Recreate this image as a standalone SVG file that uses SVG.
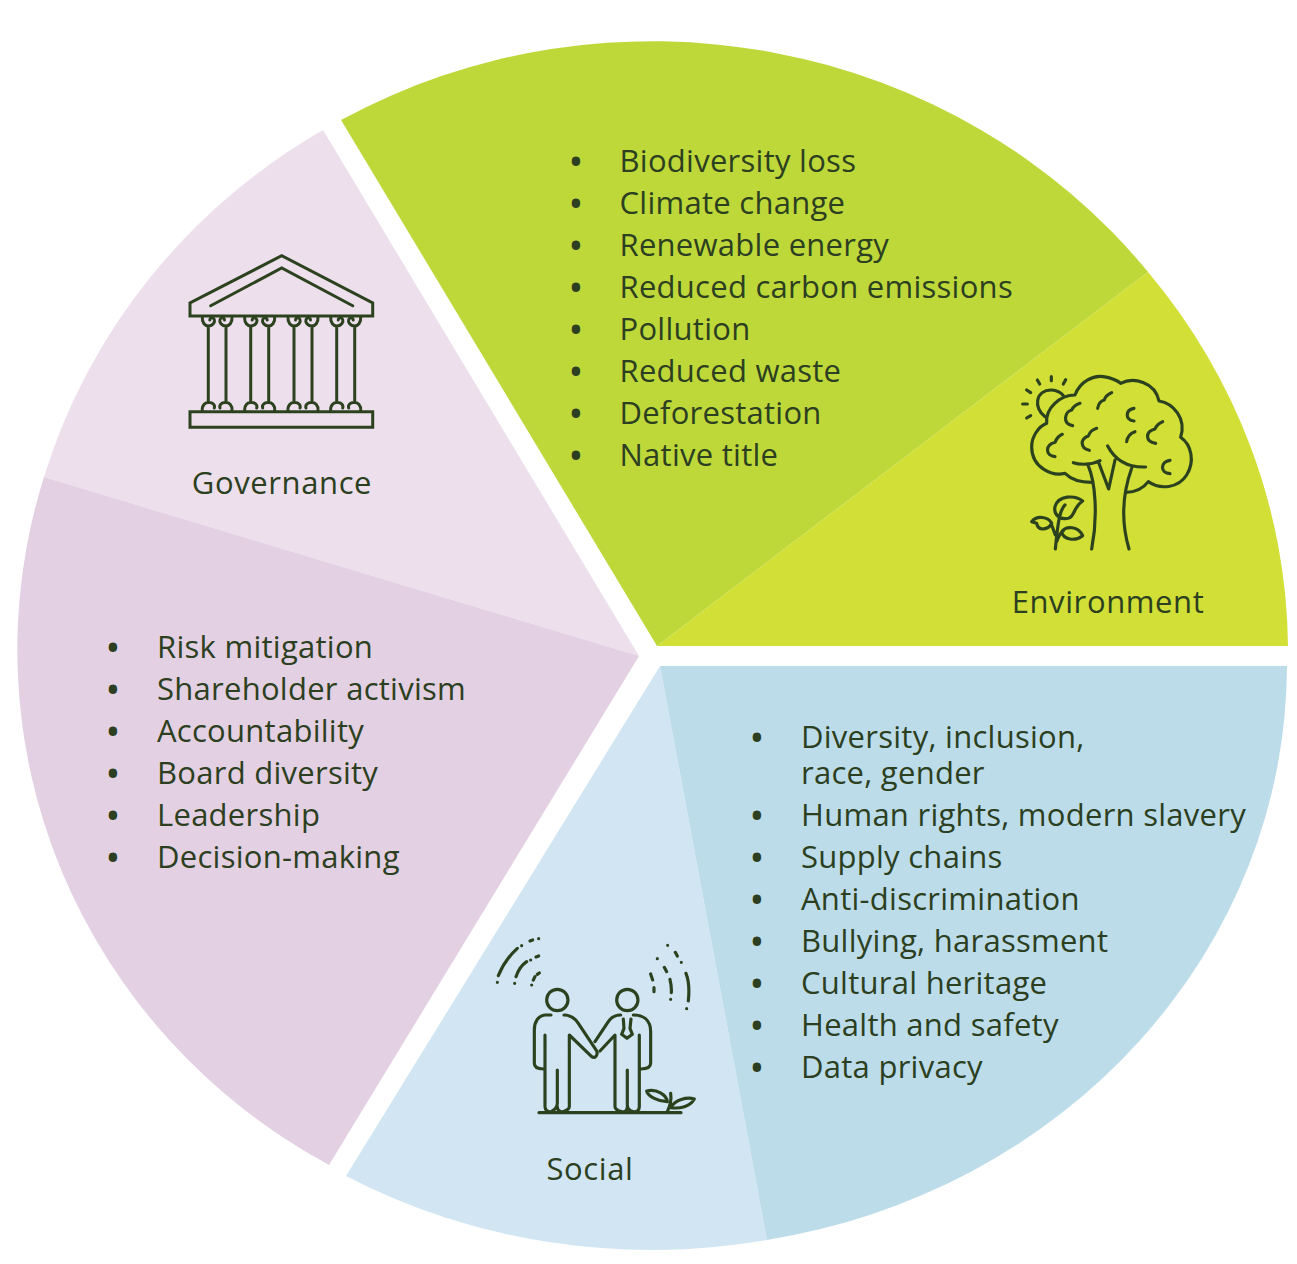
<svg xmlns="http://www.w3.org/2000/svg" width="1297" height="1264" viewBox="0 0 1297 1264">
<style>
text{font-family:"Open Sans","Noto Sans","Liberation Sans",sans-serif;font-size:31px;letter-spacing:.27px;fill:#2c3f20}
.b{font-size:30px;font-weight:700;letter-spacing:0}
.l{letter-spacing:.6px}
.i{fill:none;stroke:#2c421f;stroke-width:9.5;stroke-linecap:round;stroke-linejoin:round}
.t{fill:none;stroke:#2c421f;stroke-width:3;stroke-linejoin:miter;stroke-linecap:round}
</style>
<defs>
<path id="col" class="t" d="M-6,317C-6.500,323-3,326 0,326C4.500,326 7,322 6,319.500C5,317 2,317 1.500,320M0,326V402.500C-3,402.500-6.500,405-6,410.500M0,402.500C4.500,402 7,405 6,408"/>
<path id="colr" class="t" d="M6,317C6.500,323 3,326 0,326C-4.500,326-7,322-6,319.500C-5,317-2,317-1.500,320M0,326V402.500C3,402.500 6.500,405 6,410.500M0,402.500C-4.500,402-7,405-6,408"/>
</defs>
<rect width="1297" height="1264" fill="#fff"/>
<g id="environment">
<path d="M657,646L341,120A631,605 0 0 1 1148,272Z" fill="#bed83a"/>
<path d="M657,646L1148,272A631,605 0 0 1 1288,646Z" fill="#d1df36"/>
<g transform="translate(1010 365) scale(.3333)">
<path class="i" d="M245,352C215,352 185,345 165,325C130,335 65,310 65,245C65,215 85,185 110,175C105,130 150,90 195,90C210,50 250,30 280,35C300,38 320,45 332,55C370,35 435,50 447,108C490,115 530,160 512,217C545,240 555,290 530,330C505,370 450,375 415,350C400,370 375,382 347,382"/>
<path class="i" d="M235,303C255,350 265,450 245,552M365,310C340,380 330,460 357,552M265,290L296,372L315,285M190,293C210,300 245,300 270,287M293,243C315,285 355,308 407,306"/>
<path class="i" d="M210,115C195,120 190,125 185,135C165,140 155,175 188,182M305,83C290,90 285,95 283,105C270,108 265,118 263,130M372,130C345,135 345,165 372,168M157,208C145,213 140,220 135,232C105,240 105,272 135,275M260,190C245,195 240,200 235,213C210,222 210,250 238,256M375,200C360,205 352,215 350,230M458,170C445,175 440,180 435,192C405,200 405,230 437,235M480,286C450,290 450,325 480,326"/>
<path class="i" d="M105,155C70,130 75,75 125,75C140,75 155,85 160,92M124,35V47M82,45L89,57M167,44L160,57M50,75L62,83M38,117H52M50,159L62,152"/>
<path class="i" d="M218,408C195,390 145,390 135,425C130,450 150,465 175,460C195,455 190,425 218,408ZM165,420C150,435 145,460 136,552M65,470C80,450 115,455 125,475C115,495 85,500 80,475ZM125,480L136,510M218,512C205,485 170,480 155,500C160,525 195,530 218,512ZM140,530C145,515 150,505 160,497"/>
</g>
<text x="576" y="172" class="b" text-anchor="middle">•</text><text x="619.500" y="172">Biodiversity loss</text>
<text x="576" y="214" class="b" text-anchor="middle">•</text><text x="619.500" y="214">Climate change</text>
<text x="576" y="256" class="b" text-anchor="middle">•</text><text x="619.500" y="256">Renewable energy</text>
<text x="576" y="298" class="b" text-anchor="middle">•</text><text x="619.500" y="298">Reduced carbon emissions</text>
<text x="576" y="340" class="b" text-anchor="middle">•</text><text x="619.500" y="340">Pollution</text>
<text x="576" y="382" class="b" text-anchor="middle">•</text><text x="619.500" y="382">Reduced waste</text>
<text x="576" y="424" class="b" text-anchor="middle">•</text><text x="619.500" y="424">Deforestation</text>
<text x="576" y="466" class="b" text-anchor="middle">•</text><text x="619.500" y="466">Native title</text>
<text x="1108" y="613" class="l" text-anchor="middle">Environment</text>
</g>
<g id="social">
<path d="M660,666L346,1176A627,584 0 0 0 767,1240Z" fill="#d1e6f2"/>
<path d="M660,666H1287A627,584 0 0 1 767,1240Z" fill="#bcdcea"/>
<g transform="translate(480 925) scale(.3333)">
<path class="i" d="M177,563H603"/>
<circle class="i" cx="232" cy="225" r="32"/><circle class="i" cx="442" cy="225" r="32"/>
<path class="i" d="M213,270H195C175,272 163,290 163,315V415C163,425 170,432 190,432M195,330V545C195,555 205,563 213,560C225,555 232,545 232,535V435M232,545C232,555 240,563 250,560C260,558 268,550 268,545V330L335,395C345,402 355,390 350,378L295,295C285,280 270,270 252,270"/>
<path class="i" d="M345,350L385,290C395,275 410,270 422,270M460,270C490,270 512,285 512,320V415C512,425 505,432 483,432M478,330V545C478,555 470,563 460,560C450,558 442,550 442,540V435M442,545C442,555 435,563 425,560C412,558 405,550 405,545V330L360,378M430,282L432,310L425,328L441,340L457,328L450,310L453,282"/>
<path class="i" d="M500,498C530,490 560,510 562,530C535,530 505,515 500,498ZM643,522C620,515 585,525 572,548C600,552 630,545 643,522ZM572,505C575,525 572,540 562,560"/>
<path class="i" d="M55,152C70,115 90,90 112,70M52,172V172M125,62V62M150,48L158,45M176,41V41M108,155C115,135 125,120 140,110M104,175V175M152,105V105M168,96L176,93M160,165L165,155M172,148L178,144M155,180V180M563,61V61M586,82L592,93M604,112V112M618,145C628,170 628,200 625,228M620,251V251M532,101V101M553,127L560,140M570,163C574,180 575,190 574,203M572,223V223M512,147L518,165M522,188V200"/>
</g>
<text x="757" y="748" class="b" text-anchor="middle">•</text><text x="801" y="748">Diversity, inclusion,</text>
<text x="801" y="784">race, gender</text>
<text x="757" y="826" class="b" text-anchor="middle">•</text><text x="801" y="826">Human rights, modern slavery</text>
<text x="757" y="868" class="b" text-anchor="middle">•</text><text x="801" y="868">Supply chains</text>
<text x="757" y="910" class="b" text-anchor="middle">•</text><text x="801" y="910">Anti-discrimination</text>
<text x="757" y="952" class="b" text-anchor="middle">•</text><text x="801" y="952">Bullying, harassment</text>
<text x="757" y="994" class="b" text-anchor="middle">•</text><text x="801" y="994">Cultural heritage</text>
<text x="757" y="1036" class="b" text-anchor="middle">•</text><text x="801" y="1036">Health and safety</text>
<text x="757" y="1078" class="b" text-anchor="middle">•</text><text x="801" y="1078">Data privacy</text>
<text x="590" y="1180" class="l" text-anchor="middle">Social</text>
</g>
<g id="governance">
<path d="M639,656L323,130A621,605 0 0 0 44,477Z" fill="#eddfec"/>
<path d="M639,656L44,477A608,590 0 0 0 329,1165Z" fill="#e3d0e3"/>
<path class="t" d="M190,316V303L281.700,255.700L372.700,303V316ZM210.700,305.700L281.700,268L352.700,305.700M190,411.700H372.700V427.300H190Z"/>
<use href="#col" x="208.300"/><use href="#colr" x="226"/>
<use href="#col" x="250.700"/><use href="#colr" x="268.700"/>
<use href="#col" x="294"/><use href="#colr" x="312"/>
<use href="#col" x="336.700"/><use href="#colr" x="354.700"/>
<text x="282" y="494" class="l" text-anchor="middle">Governance</text>
<text x="113" y="658" class="b" text-anchor="middle">•</text><text x="157" y="658">Risk mitigation</text>
<text x="113" y="700" class="b" text-anchor="middle">•</text><text x="157" y="700">Shareholder activism</text>
<text x="113" y="742" class="b" text-anchor="middle">•</text><text x="157" y="742">Accountability</text>
<text x="113" y="784" class="b" text-anchor="middle">•</text><text x="157" y="784">Board diversity</text>
<text x="113" y="826" class="b" text-anchor="middle">•</text><text x="157" y="826">Leadership</text>
<text x="113" y="868" class="b" text-anchor="middle">•</text><text x="157" y="868">Decision-making</text>
</g>
</svg>
